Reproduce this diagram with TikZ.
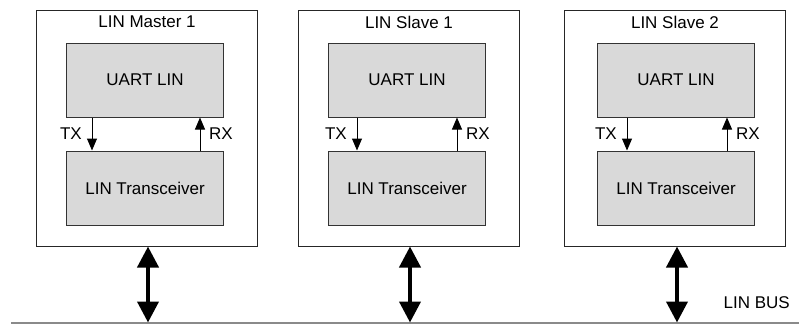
\documentclass[tikz,border=0pt]{standalone}
\usepackage{fontspec}
\setmainfont{Liberation Sans}
\usetikzlibrary{arrows.meta}

\definecolor{blockgray}{HTML}{D9D9D9}
\definecolor{busgray}{HTML}{8A8A8A}

\begin{document}
\begin{tikzpicture}[
    x=1pt, y=-1pt,
    every node/.style={font=\fontsize{17}{20}\selectfont, inner sep=0pt},
    ecu/.style={draw=black!85, line width=1pt, minimum width=221pt, minimum height=236pt},
    block/.style={draw=black!80, fill=blockgray, line width=1pt,
        minimum width=157pt, minimum height=74pt},
    sig/.style={-{Triangle[width=10pt,length=12pt]}, line width=1pt},
    link/.style={{Triangle[width=21pt,length=21pt]}-{Triangle[width=21pt,length=21pt]},
        line width=4pt}
]
\useasboundingbox (0,0) rectangle (799,324);

% LIN bus
\coordinate (busleft) at (11,322.5);
\coordinate (busright) at (799,322.5);
\draw[busgray, line width=2pt] (busleft) -- (busright);
\node (buslabel) [anchor=east] at (790,303) {LIN BUS};

% master
\node (master) [ecu] at (147,128) {};
\node (mastertitle) at (147,22) {LIN Master 1};
\node (uart1) [block] at (145,80) {UART LIN};
\node (trx1) [block] at (145,188) {LIN Transceiver};

% slave 1
\node (slave1) [ecu] at (409,128) {};
\node (slave1title) at (409,22) {LIN Slave 1};
\node (uart2) [block] at (407,80) {UART LIN};
\node (trx2) [block] at (407,188) {LIN Transceiver};

% slave 2
\node (slave2) [ecu] at (675,128) {};
\node (slave2title) at (675,22) {LIN Slave 2};
\node (uart3) [block] at (676,80) {UART LIN};
\node (trx3) [block] at (676,188) {LIN Transceiver};

% TX / RX
\draw[sig] (uart1.south -| 92,0) -- (trx1.north -| 92,0);
\draw[sig] (trx1.north -| 200,0) -- (uart1.south -| 200,0);
\node (tx1) [anchor=east] at (82,134) {TX};
\node (rx1) [anchor=west] at (209,134) {RX};

\draw[sig] (uart2.south -| 357,0) -- (trx2.north -| 357,0);
\draw[sig] (trx2.north -| 457,0) -- (uart2.south -| 457,0);
\node (tx2) [anchor=east] at (347,134) {TX};
\node (rx2) [anchor=west] at (466,134) {RX};

\draw[sig] (uart3.south -| 627,0) -- (trx3.north -| 627,0);
\draw[sig] (trx3.north -| 727,0) -- (uart3.south -| 727,0);
\node (tx3) [anchor=east] at (617,134) {TX};
\node (rx3) [anchor=west] at (736,134) {RX};

% bus links
\draw[link] (master.south -| 148,0) -- (busleft -| 148,0);
\draw[link] (slave1.south -| 410,0) -- (busleft -| 410,0);
\draw[link] (slave2.south -| 677,0) -- (busleft -| 677,0);

\end{tikzpicture}
\end{document}
